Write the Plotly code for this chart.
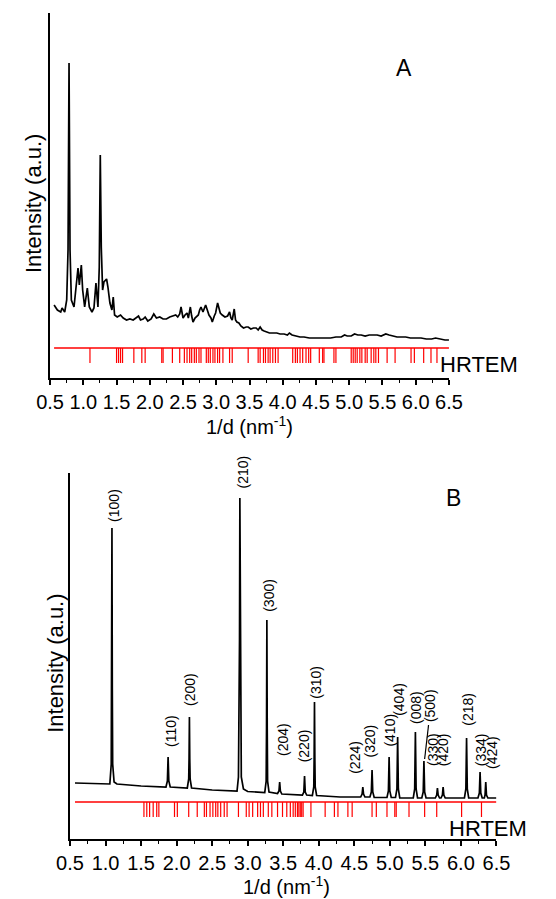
import plotly.graph_objects as go

# ---------------- Panel A data ----------------
a_x = [0.56, 0.61, 0.66, 0.68, 0.72, 0.75, 0.77, 0.785, 0.80, 0.82, 0.86, 0.89, 0.92, 0.94, 0.97, 0.99,
       1.02, 1.06, 1.09, 1.13, 1.16, 1.19, 1.22, 1.24, 1.255, 1.27, 1.29, 1.31, 1.35, 1.37, 1.40, 1.43,
       1.45, 1.47, 1.51, 1.56, 1.60, 1.65, 1.70, 1.75, 1.80, 1.83, 1.86, 1.90, 1.93, 1.97, 2.02, 2.06,
       2.10, 2.15, 2.20, 2.25, 2.30, 2.35, 2.39, 2.42, 2.45, 2.47, 2.50, 2.53, 2.56, 2.58, 2.61, 2.63,
       2.65, 2.68, 2.70, 2.73, 2.75, 2.77, 2.80, 2.84, 2.87, 2.89, 2.92, 2.94, 2.97, 2.99, 3.02, 3.04,
       3.06, 3.09, 3.13, 3.17, 3.20, 3.22, 3.24, 3.27, 3.29, 3.31, 3.34, 3.37, 3.41, 3.45, 3.48, 3.52,
       3.56, 3.60, 3.63, 3.66, 3.69, 3.72, 3.76, 3.80, 3.85, 3.91, 3.96, 4.02, 4.07, 4.10, 4.14, 4.20,
       4.26, 4.32, 4.40, 4.48, 4.56, 4.64, 4.72, 4.80, 4.88, 4.93, 4.97, 5.03, 5.08, 5.13, 5.18, 5.24,
       5.30, 5.36, 5.42, 5.48, 5.55, 5.60, 5.66, 5.72, 5.78, 5.85, 5.92, 6.00, 6.08, 6.16, 6.24, 6.30,
       6.36, 6.44, 6.50]
a_y = [73, 68, 66, 70, 66, 78, 128, 315, 128, 78, 71, 91, 110, 93, 113, 88,
       71, 90, 71, 66, 70, 95, 71, 111, 223, 131, 88, 96, 99, 91, 75, 68,
       81, 63, 61, 63, 60, 58, 59, 58, 60, 62, 58, 59, 61, 57, 59, 64,
       60, 61, 59, 59, 61, 62, 63, 61, 64, 71, 60, 63, 65, 60, 71, 62,
       56, 60, 61, 63, 68, 71, 66, 73, 67, 63, 60, 56, 62, 65, 75, 70,
       65, 63, 61, 62, 66, 60, 58, 69, 58, 56, 55, 52, 50, 51, 51, 49,
       50, 50, 48, 51, 48, 47, 46, 45, 45, 45, 44, 44, 43, 45, 43, 42,
       41, 41, 40, 40, 40, 40, 40, 41, 41, 43, 42, 42, 44, 43, 43, 42,
       43, 43, 43, 42, 44, 43, 42, 41, 41, 41, 40, 40, 40, 39, 39, 40,
       39, 38, 38]

a_hrtem = [1.10, 1.50, 1.53, 1.56, 1.59, 1.76, 1.88, 1.93, 2.18, 2.20, 2.34,
           2.45, 2.52, 2.56, 2.60, 2.63, 2.67, 2.70, 2.74, 2.77, 2.85, 2.88, 2.91, 2.95, 2.98, 3.02, 3.05, 3.10,
           3.20, 3.24, 3.48, 3.63, 3.66, 3.71, 3.74, 3.78, 3.81, 3.85, 3.89, 3.93,
           4.15, 4.19, 4.22, 4.26, 4.30, 4.35, 4.39, 4.42, 4.55, 4.60, 4.62, 4.77, 4.80,
           5.03, 5.06, 5.09, 5.12, 5.16, 5.19, 5.24, 5.27, 5.33, 5.37, 5.40, 5.44,
           5.57, 5.69, 5.93, 5.98, 6.12, 6.23, 6.32]

# ---------------- Panel B data ----------------
b_x = [0.57, 0.80, 1.00,
       1.06, 1.08, 1.085, 1.09, 1.095, 1.10, 1.12, 1.16,
       1.50,
       1.85, 1.87, 1.88, 1.89, 1.91,
       2.15, 2.17, 2.175, 2.18, 2.185, 2.19, 2.21,
       2.50,
       2.85, 2.87, 2.88, 2.885, 2.89, 2.895, 2.90, 2.91, 2.94, 3.00,
       3.24, 3.26, 3.265, 3.27, 3.275, 3.28, 3.30,
       3.42, 3.44, 3.45, 3.46, 3.48,
       3.60,
       3.77, 3.79, 3.80, 3.81, 3.83,
       3.91, 3.93, 3.935, 3.94, 3.945, 3.95, 3.97,
       4.30,
       4.59, 4.61, 4.62, 4.63, 4.65,
       4.72, 4.74, 4.75, 4.76, 4.78,
       4.96, 4.98, 4.99, 5.00, 5.02,
       5.08, 5.10, 5.11, 5.12, 5.14,
       5.33, 5.35, 5.36, 5.37, 5.39,
       5.45, 5.47, 5.48, 5.49, 5.51,
       5.64, 5.66, 5.67, 5.68, 5.70,
       5.72, 5.74, 5.75, 5.76, 5.78,
       6.05, 6.07, 6.08, 6.09, 6.11,
       6.24, 6.26, 6.27, 6.28, 6.30,
       6.33, 6.34, 6.35, 6.36, 6.38,
       6.50]
b_y = [56, 55.5, 55,
       55, 75, 150, 311, 150, 75, 57, 55,
       53,
       52, 58, 82, 58, 52,
       51, 60, 80, 122, 80, 60, 51,
       49,
       48, 62, 120, 200, 341, 200, 120, 62, 50, 47.5,
       46.5, 58, 110, 219, 110, 58, 47,
       45.5, 48, 57, 48, 45,
       44.5,
       44, 47, 63, 47, 44,
       43.5, 52, 80, 137, 80, 52, 43.5,
       42,
       42, 45, 52, 45, 42,
       42, 47, 69, 47, 41.5,
       41.5, 48, 82, 48, 41.5,
       41.5, 50, 102, 50, 41,
       41, 50, 107, 50, 41,
       41, 47, 78, 47, 41,
       41, 44, 51, 44, 41,
       41, 44, 52, 44, 41,
       41, 50, 101, 50, 41,
       41, 46, 67, 46, 41,
       41, 44, 57, 44, 41,
       41]

b_hrtem = [1.54, 1.58, 1.62, 1.67, 1.72, 1.75, 1.97, 2.01, 2.17, 2.29,
           2.39, 2.42, 2.47, 2.51, 2.55, 2.58, 2.62, 2.67, 2.71, 2.87,
           2.98, 3.02, 3.07, 3.14, 3.18, 3.22, 3.29, 3.34, 3.42, 3.49,
           3.55, 3.60, 3.64, 3.67, 3.70, 3.72, 3.74, 3.76, 3.78, 3.89,
           4.09, 4.22, 4.27, 4.41, 4.47, 4.75, 4.81, 4.96, 5.07, 5.09,
           5.27, 5.49, 5.66, 6.01, 6.29]

b_labels = ["(100)", "(110)", "(200)", "(210)", "(300)", "(204)", "(220)", "(310)", "(224)", "(320)",
            "(410)", "(404)", "(008)", "(500)", "(330)", "(420)", "(218)", "(334)", "(424)"]
b_label_x = [1.11, 1.92, 2.18, 2.92, 3.29, 3.49, 3.79, 3.95, 4.50, 4.72,
             4.99, 5.12, 5.36, 5.56, 5.60, 5.745, 6.09, 6.28, 6.43]
b_label_y = [316, 91, 132, 349, 226, 82, 76, 139, 64, 81,
             91, 122, 114, 116, 72, 72, 112, 72, 69]

W, H = 556, 899
FONT = "Liberation Sans, Arial, Helvetica, sans-serif"
RED = "#ff0000"


def seg(xs, y0, y1):
    X, Y = [], []
    for t in xs:
        X += [t, t, None]
        Y += [y0, y1, None]
    return X, Y


fig = go.Figure()

# Panel A
fig.add_trace(go.Scatter(x=a_x, y=a_y, mode="lines", line=dict(color="black", width=1.7),
                         xaxis="x", yaxis="y", showlegend=False, hoverinfo="skip"))
fig.add_trace(go.Scatter(x=[0.56, 6.5], y=[30, 30], mode="lines", line=dict(color=RED, width=1.3),
                         xaxis="x", yaxis="y", showlegend=False, hoverinfo="skip"))
tx, ty = seg(a_hrtem, 30, 15)
fig.add_trace(go.Scatter(x=tx, y=ty, mode="lines", line=dict(color=RED, width=1.2),
                         xaxis="x", yaxis="y", showlegend=False, hoverinfo="skip"))

# Panel B
fig.add_trace(go.Scatter(x=b_x, y=b_y, mode="lines", line=dict(color="black", width=1.7),
                         xaxis="x2", yaxis="y2", showlegend=False, hoverinfo="skip"))
fig.add_trace(go.Scatter(x=[0.57, 6.5], y=[37, 37], mode="lines", line=dict(color=RED, width=1.3),
                         xaxis="x2", yaxis="y2", showlegend=False, hoverinfo="skip"))
tx, ty = seg(b_hrtem, 37, 22)
fig.add_trace(go.Scatter(x=tx, y=ty, mode="lines", line=dict(color=RED, width=1.2),
                         xaxis="x2", yaxis="y2", showlegend=False, hoverinfo="skip"))
# leader line for the (500) label
fig.add_trace(go.Scatter(x=[5.545, 5.49], y=[114, 80], mode="lines", line=dict(color="black", width=1.2),
                         xaxis="x2", yaxis="y2", showlegend=False, hoverinfo="skip"))


def xaxis(domain, anchor):
    return dict(domain=domain, anchor=anchor, range=[0.5, 6.5], tick0=0.5, dtick=0.5,
                tickformat=".1f", ticks="outside", ticklen=5, tickwidth=1.5, tickcolor="black",
                showline=True, linecolor="black", linewidth=2, showgrid=False, zeroline=False,
                tickfont=dict(family=FONT, size=20, color="black"),
                minor=dict(dtick=0.25, tick0=0.5, ticks="outside", ticklen=3, tickwidth=1.2,
                           tickcolor="black", showgrid=False))


def yaxis(domain, anchor, top):
    return dict(domain=domain, anchor=anchor, range=[0, top], showline=True, linecolor="black",
                linewidth=2, showticklabels=False, ticks="", showgrid=False, zeroline=False)


fig.update_layout(
    width=W, height=H, margin=dict(l=0, r=0, t=0, b=0),
    paper_bgcolor="white", plot_bgcolor="white",
    xaxis=xaxis([38 / W, 458 / W], "y"),
    yaxis=yaxis([1 - 378 / H, 1 - 13 / H], "x", 365),
    xaxis2=xaxis([59 / W, 508 / W], "y2"),
    yaxis2=yaxis([1 - 839 / H, 1 - 473 / H], "x2", 366),
)

ann = []
# axis titles
for cx, cy in [(248, 425), (287, 885)]:
    ann.append(dict(x=cx / W, y=1 - cy / H, xref="paper", yref="paper", showarrow=False,
                    text="1/d (nm<sup>-1</sup>)", font=dict(family=FONT, size=20, color="black"),
                    xanchor="center", yanchor="middle"))
for cx, cy in [(20, 203), (43, 663)]:
    ann.append(dict(x=cx / W, y=1 - cy / H, xref="paper", yref="paper", showarrow=False,
                    text="Intensity (a.u.)", textangle=-90,
                    font=dict(family=FONT, size=22, color="black"),
                    xanchor="center", yanchor="middle"))
# panel letters
ann.append(dict(x=411 / W, y=1 - 68 / H, xref="paper", yref="paper", showarrow=False, text="A",
                font=dict(family=FONT, size=23, color="black"), xanchor="center", yanchor="middle"))
ann.append(dict(x=463 / W, y=1 - 498 / H, xref="paper", yref="paper", showarrow=False, text="B",
                font=dict(family=FONT, size=23, color="black"), xanchor="center", yanchor="middle"))
# HRTEM labels
ann.append(dict(x=446 / W, y=1 - 364 / H, xref="paper", yref="paper", showarrow=False, text="HRTEM",
                font=dict(family=FONT, size=22, color="black"), xanchor="left", yanchor="middle"))
ann.append(dict(x=456 / W, y=1 - 828 / H, xref="paper", yref="paper", showarrow=False, text="HRTEM",
                font=dict(family=FONT, size=22, color="black"), xanchor="left", yanchor="middle"))
# peak labels
for t, lx, ly in zip(b_labels, b_label_x, b_label_y):
    ann.append(dict(x=lx, y=ly, xref="x2", yref="y2", showarrow=False, text=t, textangle=-90,
                    font=dict(family=FONT, size=14, color="black"), xanchor="center", yanchor="bottom",
                    borderpad=0))

fig.update_layout(annotations=ann)
fig.write_html("out.html")
